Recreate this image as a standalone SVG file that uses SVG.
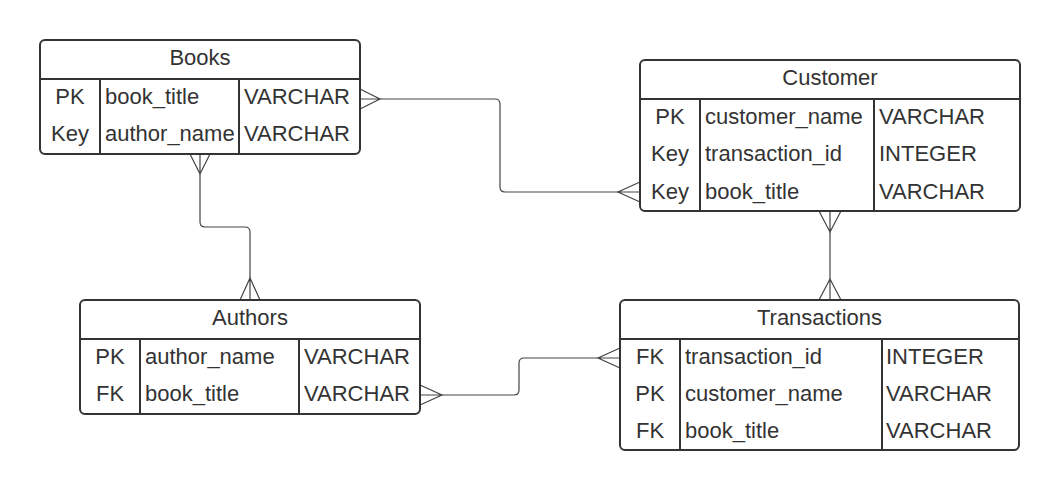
<svg xmlns="http://www.w3.org/2000/svg" width="1060" height="491" viewBox="0 0 1060 491">
<style>
.box{fill:#fff;stroke:#333;stroke-width:2}
.div{stroke:#333;stroke-width:2;fill:none}
.t{font-family:"Liberation Sans",Arial,sans-serif;font-size:22px;fill:#333}
.c{text-anchor:middle}
.conn path{fill:none;stroke:#444;stroke-width:1.2}
</style>
<rect width="1060" height="491" fill="#fff"/>
<g id="connectors" class="conn">
<path d="M380,99 H495 Q500,99 500,104 V187 Q500,192 505,192 H618"/>
<path d="M360,89 L380,99 L360,109 M360,99 H380"/>
<path d="M640,182 L618,192 L640,202 M618,192 H640"/>
<path d="M200,174 V222 Q200,227 205,227 H245 Q250,227 250,232 V278"/>
<path d="M190,154 L200,174 L210,154 M200,154 V174"/>
<path d="M240,300 L250,278 L260,300 M250,278 V300"/>
<path d="M442,395 H514 Q519,395 519,390 V363 Q519,358 524,358 H598"/>
<path d="M420,385 L442,395 L420,405 M420,395 H442"/>
<path d="M620,348 L598,358 L620,368 M598,358 H620"/>
<path d="M830,232 V279"/>
<path d="M819,211 L830,232 L841,211 M830,211 V232"/>
<path d="M819,300 L830,279 L841,300 M830,279 V300"/>
</g>
<g id="books">
<rect class="box" x="40" y="40" width="320" height="114" rx="5"/>
<path class="div" d="M40,79 H360 M100,79 V154 M239,79 V154"/>
<text class="t c" x="200" y="64.5">Books</text>
<text class="t c" x="70" y="104">PK</text>
<text class="t" x="105" y="104">book_title</text>
<text class="t" x="244" y="104">VARCHAR</text>
<text class="t c" x="70" y="141">Key</text>
<text class="t" x="105" y="141">author_name</text>
<text class="t" x="244" y="141">VARCHAR</text>
</g>
<g id="customer">
<rect class="box" x="640" y="60" width="380" height="151" rx="5"/>
<path class="div" d="M640,99 H1020 M700,99 V211 M874,99 V211"/>
<text class="t c" x="830" y="84.5">Customer</text>
<text class="t c" x="670" y="124">PK</text>
<text class="t" x="705" y="124">customer_name</text>
<text class="t" x="879" y="124">VARCHAR</text>
<text class="t c" x="670" y="161">Key</text>
<text class="t" x="705" y="161">transaction_id</text>
<text class="t" x="879" y="161">INTEGER</text>
<text class="t c" x="670" y="198.5">Key</text>
<text class="t" x="705" y="198.5">book_title</text>
<text class="t" x="879" y="198.5">VARCHAR</text>
</g>
<g id="authors">
<rect class="box" x="80" y="300" width="340" height="114" rx="5"/>
<path class="div" d="M80,339 H420 M140,339 V414 M299,339 V414"/>
<text class="t c" x="250" y="324.5">Authors</text>
<text class="t c" x="110" y="363.5">PK</text>
<text class="t" x="145" y="363.5">author_name</text>
<text class="t" x="304" y="363.5">VARCHAR</text>
<text class="t c" x="110" y="401">FK</text>
<text class="t" x="145" y="401">book_title</text>
<text class="t" x="304" y="401">VARCHAR</text>
</g>
<g id="transactions">
<rect class="box" x="620" y="300" width="399" height="150" rx="5"/>
<path class="div" d="M620,339 H1019 M680,339 V450 M882,339 V450"/>
<text class="t c" x="819.5" y="324.5">Transactions</text>
<text class="t c" x="650" y="363.5">FK</text>
<text class="t" x="685" y="363.5">transaction_id</text>
<text class="t" x="886" y="363.5">INTEGER</text>
<text class="t c" x="650" y="400.5">PK</text>
<text class="t" x="685" y="400.5">customer_name</text>
<text class="t" x="886" y="400.5">VARCHAR</text>
<text class="t c" x="650" y="437.5">FK</text>
<text class="t" x="685" y="437.5">book_title</text>
<text class="t" x="886" y="437.5">VARCHAR</text>
</g>
</svg>
